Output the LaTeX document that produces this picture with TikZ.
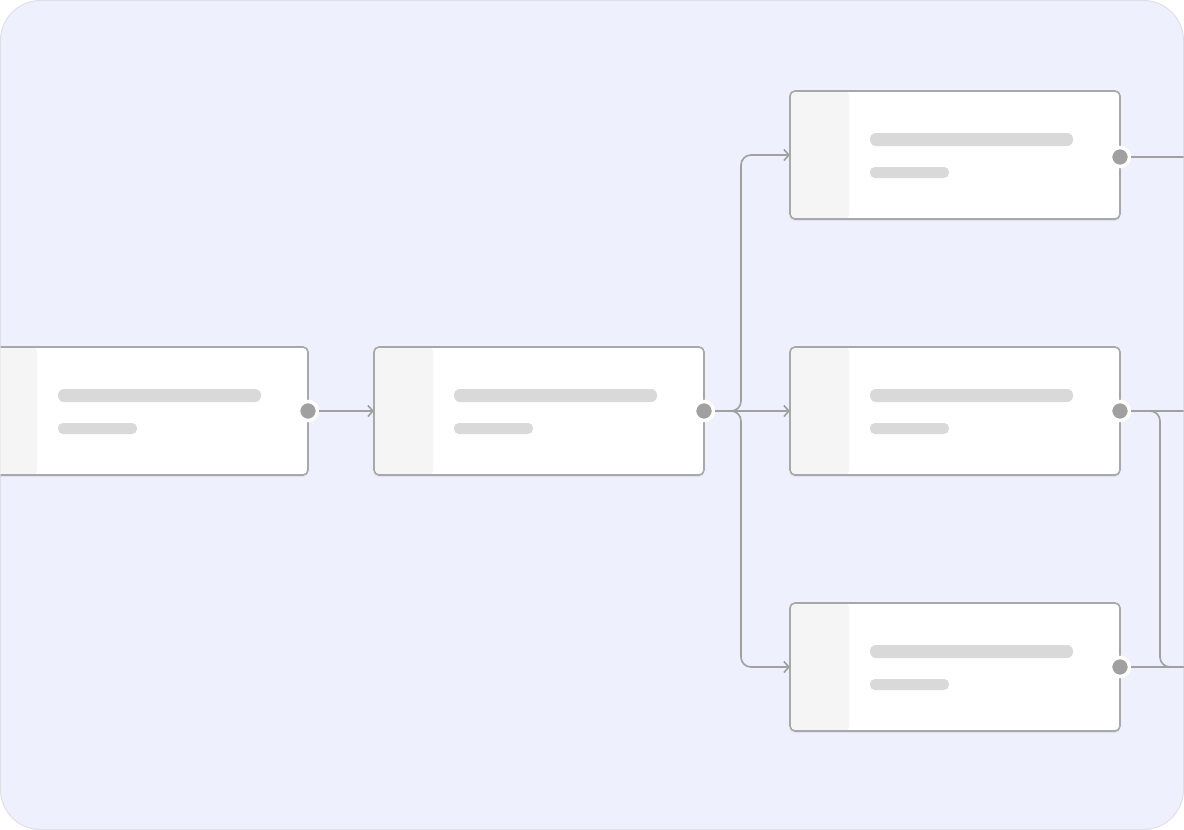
\documentclass[tikz,border=0pt]{standalone}
\usepackage{xcolor}
\usepackage{tikz}
\usetikzlibrary{arrows.meta,positioning,shadows}
\definecolor{canvasblue}{HTML}{EEF0FE}
\definecolor{framegray}{HTML}{E0E0E8}
\definecolor{cardedge}{HTML}{A8A8A8}
\definecolor{stripgray}{HTML}{F5F5F5}
\definecolor{bargray}{HTML}{D9D9D9}
\definecolor{wiregray}{HTML}{A0A0A0}
\definecolor{portgray}{HTML}{A0A0A0}

\begin{document}
\begin{tikzpicture}[x=1pt,y=-1pt,
  card/.style={draw=cardedge,line width=1.6pt,fill=white,rounded corners=5pt,
    minimum width=330pt,minimum height=128pt,inner sep=0pt,outer sep=0pt,
    drop shadow={shadow xshift=0pt,shadow yshift=-2pt,opacity=0.06,fill=black},
    path picture={
      \fill[stripgray] (path picture bounding box.north west)
        rectangle ([xshift=59pt]path picture bounding box.south west);
      \fill[bargray,rounded corners=6pt]
        ([xshift=80pt,yshift=-42pt]path picture bounding box.north west)
        rectangle ([xshift=283pt,yshift=-55pt]path picture bounding box.north west);
      \fill[bargray,rounded corners=5pt]
        ([xshift=80pt,yshift=-76pt]path picture bounding box.north west)
        rectangle ([xshift=159pt,yshift=-87pt]path picture bounding box.north west);
    }},
  port/.style={circle,fill=portgray,draw=white,line width=3.5pt,minimum size=19pt,inner sep=0pt},
  wire/.style={draw=wiregray,line width=1.6pt,rounded corners=10pt},
  flow/.style={wire,-{Straight Barb[length=5pt,width=11pt]}}
]
\useasboundingbox (0,0) rectangle (1184,830);
\filldraw[fill=canvasblue,draw=framegray,line width=1pt,rounded corners=40pt]
  (0.5,0.5) rectangle (1183.5,829.5);
\begin{scope}
\clip[rounded corners=40pt] (0.5,0.5) rectangle (1183.5,829.5);
% cards
\node[card] (src) at (143,411) {};
\node[card,right=66pt of src] (mid) {};
\node[card,right=86pt of mid] (dmid) {};
\node[card,above=128pt of dmid] (top) {};
\node[card,below=128pt of dmid] (bot) {};
% output ports
\node[port] (srcout) at (src.east) {};
\node[port] (midout) at (mid.east) {};
\node[port] (topout) at ([yshift=-2pt]top.east) {};
\node[port] (dout) at (dmid.east) {};
\node[port] (botout) at (bot.east) {};
\coordinate (split) at ([xshift=37pt]mid.east);
\coordinate (join) at ([xshift=40pt]bot.east);
\coordinate (exitc) at (1185,0 |- topout);
\coordinate (exitd) at (1185,0 |- dout);
\coordinate (exite) at (1185,0 |- botout);
% links
\draw[flow] (srcout) -- (mid.west);
\draw[flow] (midout) -- (dmid.west);
\draw[flow] (midout) -- (split) |- (top.west);
\draw[flow] (midout) -- (split) |- (bot.west);
\draw[wire] (topout) -- (exitc);
\draw[wire] (dout) -- (exitd);
\draw[wire] (dout) -| (join) -- (exite);
\draw[wire] (botout) -- (exite);
\end{scope}
\end{tikzpicture}
\end{document}
